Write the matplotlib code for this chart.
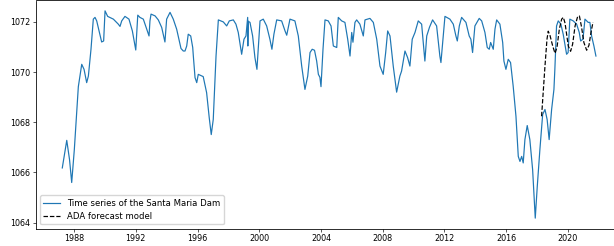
import numpy as np
import matplotlib
matplotlib.use("Agg")
import matplotlib.pyplot as plt

# nivel observado da barragem (ano decimal, cota em m)
obs_year = [1987.24, 1987.53, 1987.71, 1987.85, 1988.02, 1988.28, 1988.50, 1988.65, 1988.82, 1988.93,
            1989.10, 1989.25, 1989.36, 1989.47, 1989.64, 1989.79, 1989.92, 1990.01, 1990.18, 1990.55,
            1990.87, 1990.98, 1991.09, 1991.30, 1991.56, 1991.78, 1992.00, 1992.13, 1992.27, 1992.49,
            1992.71, 1992.86, 1992.92, 1992.99, 1993.25, 1993.46, 1993.68, 1993.89, 1994.00, 1994.22,
            1994.43, 1994.65, 1994.93, 1995.08, 1995.19, 1995.30, 1995.40, 1995.56, 1995.69, 1995.73,
            1995.84, 1995.95, 1996.05, 1996.37, 1996.59, 1996.76, 1996.89, 1997.02, 1997.20, 1997.35,
            1997.67, 1997.89, 1998.06, 1998.32, 1998.49, 1998.64, 1998.86, 1999.01, 1999.14, 1999.25,
            1999.26, 1999.28, 1999.40, 1999.57, 1999.72, 1999.85, 2000.05, 2000.26, 2000.48, 2000.69,
            2000.82, 2000.95, 2001.13, 2001.45, 2001.67, 2001.78, 2001.99, 2002.31, 2002.53, 2002.75,
            2002.96, 2003.14, 2003.29, 2003.43, 2003.58, 2003.72, 2003.83, 2003.93, 2004.00, 2004.13,
            2004.26, 2004.47, 2004.65, 2004.80, 2005.02, 2005.12, 2005.34, 2005.55, 2005.73, 2005.88,
            2005.99, 2006.07, 2006.20, 2006.31, 2006.52, 2006.74, 2006.85, 2007.17, 2007.39, 2007.61,
            2007.82, 2008.03, 2008.19, 2008.32, 2008.47, 2008.68, 2008.90, 2009.11, 2009.22, 2009.44,
            2009.61, 2009.76, 2009.91, 2010.09, 2010.30, 2010.52, 2010.73, 2010.85, 2011.03, 2011.23,
            2011.49, 2011.70, 2011.77, 2012.03, 2012.35, 2012.57, 2012.74, 2012.83, 2012.96, 2013.11,
            2013.39, 2013.60, 2013.71, 2013.82, 2013.97, 2014.25, 2014.41, 2014.62, 2014.77, 2014.90,
            2014.99, 2015.16, 2015.27, 2015.38, 2015.59, 2015.77, 2015.85, 2015.98, 2016.13, 2016.28,
            2016.45, 2016.63, 2016.78, 2016.89, 2017.00, 2017.10, 2017.21, 2017.36, 2017.53, 2017.71,
            2017.88, 2018.01, 2018.18, 2018.36, 2018.51, 2018.65, 2018.78, 2018.94, 2019.09, 2019.15,
            2019.26, 2019.37, 2019.54, 2019.69, 2019.91, 2020.01, 2020.12, 2020.34, 2020.56, 2020.73,
            2020.82, 2020.97, 2021.10, 2021.31, 2021.42, 2021.53, 2021.68, 2021.81]
obs_level = [1066.18, 1067.28, 1066.51, 1065.60, 1066.91, 1069.42, 1070.31, 1070.11, 1069.58, 1069.84,
             1070.91, 1072.11, 1072.18, 1072.04, 1071.59, 1071.20, 1071.24, 1072.44, 1072.22, 1072.11,
             1071.91, 1071.82, 1072.04, 1072.22, 1072.11, 1071.64, 1070.88, 1072.27, 1072.18, 1072.11,
             1071.71, 1071.44, 1072.04, 1072.31, 1072.24, 1072.08, 1071.78, 1071.20, 1072.11, 1072.38,
             1072.11, 1071.71, 1070.94, 1070.84, 1070.84, 1071.04, 1071.51, 1071.44, 1070.98, 1070.64,
             1069.78, 1069.58, 1069.91, 1069.82, 1069.18, 1068.18, 1067.51, 1068.11, 1070.64, 1072.08,
             1072.00, 1071.84, 1072.04, 1072.08, 1071.91, 1071.58, 1070.71, 1071.31, 1071.44, 1072.18,
             1071.04, 1072.03, 1071.98, 1071.44, 1070.58, 1070.11, 1072.04, 1072.11, 1071.84, 1071.31,
             1070.91, 1071.51, 1072.08, 1072.04, 1071.64, 1071.47, 1072.11, 1072.04, 1071.44, 1070.24,
             1069.31, 1069.84, 1070.78, 1070.91, 1070.87, 1070.44, 1069.91, 1069.79, 1069.42, 1070.91,
             1072.08, 1072.04, 1071.84, 1071.04, 1070.98, 1072.18, 1072.04, 1071.98, 1071.31, 1070.64,
             1071.58, 1071.19, 1071.98, 1072.08, 1071.91, 1071.44, 1072.08, 1072.14, 1071.98, 1071.31,
             1070.24, 1069.91, 1070.78, 1071.64, 1071.44, 1070.24, 1069.20, 1069.84, 1070.04, 1070.84,
             1070.58, 1070.24, 1071.31, 1071.58, 1072.04, 1071.91, 1070.44, 1071.44, 1071.79, 1072.08,
             1071.84, 1070.64, 1070.38, 1072.22, 1072.11, 1071.91, 1071.44, 1071.24, 1071.84, 1072.18,
             1071.98, 1071.44, 1071.31, 1070.78, 1071.84, 1072.14, 1072.04, 1071.58, 1070.98, 1070.91,
             1071.18, 1070.91, 1071.71, 1072.08, 1071.91, 1071.18, 1070.44, 1070.11, 1070.51, 1070.38,
             1069.44, 1068.24, 1066.64, 1066.44, 1066.64, 1066.38, 1067.31, 1067.87, 1067.31, 1066.11,
             1064.18, 1065.44, 1066.91, 1068.31, 1068.51, 1068.11, 1067.31, 1068.51, 1069.31, 1070.11,
             1071.84, 1072.04, 1071.91, 1071.51, 1070.71, 1070.78, 1072.11, 1072.04, 1071.91, 1071.58,
             1071.24, 1071.31, 1072.11, 1071.98, 1071.98, 1071.44, 1071.04, 1070.64]

# previsao do modelo ADA
ada_year = [2018.29, 2018.51, 2018.64, 2018.72, 2018.83, 2019.01, 2019.16, 2019.29, 2019.44, 2019.59,
            2019.70, 2019.81, 2020.02, 2020.17, 2020.30, 2020.46, 2020.61, 2020.74, 2020.88, 2021.03,
            2021.21, 2021.36, 2021.49, 2021.62]
ada_level = [1068.24, 1070.24, 1071.31, 1071.63, 1071.47, 1071.04, 1070.75, 1070.99, 1071.71, 1072.11,
             1072.18, 1071.95, 1071.04, 1070.83, 1071.11, 1071.84, 1072.18, 1072.24, 1071.79, 1071.18,
             1070.87, 1071.07, 1071.58, 1071.99]

year_ticks = [1988, 1992, 1996, 2000, 2004, 2008, 2012, 2016, 2020]
level_ticks = [1064, 1066, 1068, 1070, 1072]

# grafico original foi reduzido, por isso tudo em escala menor
s = 0.58
plt.rcParams['font.size'] = 10 * s
plt.rcParams['lines.linewidth'] = 1.5 * s
plt.rcParams['axes.linewidth'] = 1.0 * s
for a in ('xtick', 'ytick'):
    plt.rcParams[a + '.major.size'] = 3.5 * s
    plt.rcParams[a + '.major.width'] = 0.8 * s
    plt.rcParams[a + '.major.pad'] = 3.5 * s

fig = plt.figure(figsize=(6.14, 2.46), dpi=100)
ax = fig.add_axes([35.6 / 614, 17.5 / 246, 587 / 614, 228 / 246])

ax.plot(obs_year, obs_level, color='C0', label='Time series of the Santa Maria Dam')
ax.plot(ada_year, ada_level, 'k--', label='ADA forecast model')

ax.set_xticks(year_ticks)
ax.set_xticklabels([str(y) for y in year_ticks])
ax.set_yticks(level_ticks)
ax.legend(loc='lower left', fontsize=6.1)

plt.savefig('out.png', dpi=100)
